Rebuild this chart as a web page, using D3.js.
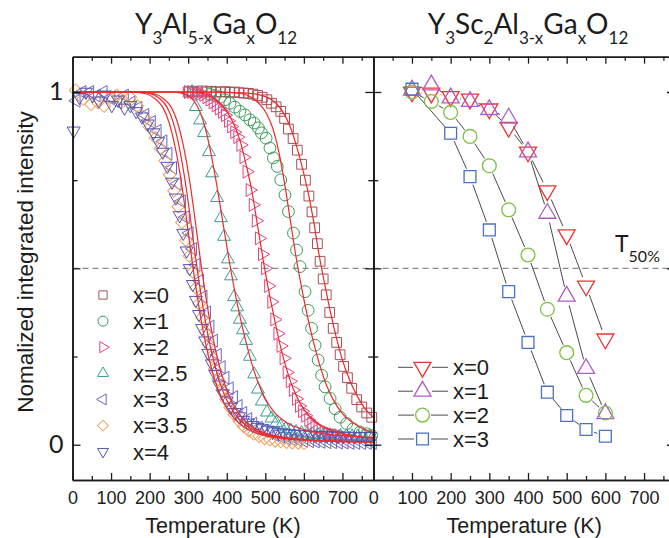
<!DOCTYPE html>
<html>
<head>
<meta charset="utf-8">
<script src="https://cdn.jsdelivr.net/npm/d3@7"></script>
<style>
  body { margin: 0; background: #fff; }
  svg { display: block; }
</style>
</head>
<body>
<svg id="chart" width="669" height="538"></svg>
<script>
// ---------- Y3Al(5-x)Ga(x)O12 : measured points ----------
const yagT_x0 = [300,312,324,336,348,360,372,384,396,408,420,432,444,456,468,480,492,504,516,528,540,550,560,572,583,594,604,613,621,628,635,642,650,658,667,676,685,694,703,713,724,737,750,763,776];
const yagI_x0 = [1.0,1.002,1.0,1.003,1.0,1.002,1.0,1.0,1.001,0.999,1.0,0.998,0.997,0.996,0.994,0.99,0.985,0.978,0.968,0.958,0.945,0.925,0.895,0.868,0.835,0.795,0.75,0.705,0.66,0.615,0.57,0.52,0.47,0.425,0.375,0.33,0.29,0.255,0.222,0.19,0.16,0.128,0.107,0.09,0.078];

const yagT_x1 = [357,370,383,395,408,421,434,447,460,471,482,490,502,512,521,531,540,551,560,573,581,590,603,611,620,629,637,646,655,668,681,694,711,728,746,763,776];
const yagI_x1 = [0.993,0.99,0.985,0.978,0.968,0.957,0.945,0.935,0.921,0.912,0.898,0.884,0.869,0.841,0.813,0.789,0.751,0.708,0.661,0.60,0.552,0.505,0.434,0.381,0.33,0.282,0.24,0.197,0.164,0.131,0.102,0.078,0.06,0.045,0.036,0.031,0.026];

const yagT_x2 = [300,308,316,324,332,340,348,356,364,372,380,388,396,404,412,420,428,436,444,452,460,468,476,484,492,500,508,516,524,532,540,548,556,564,572,580,588,596,604,612,620,628,636,644,652,660,668,676,684,692,700];
const yagI_x2 = [1.0,1.0,0.998,0.997,0.995,0.992,0.985,0.978,0.97,0.962,0.953,0.944,0.934,0.918,0.902,0.886,0.872,0.85,0.815,0.774,0.722,0.68,0.635,0.585,0.54,0.5,0.45,0.405,0.355,0.315,0.28,0.245,0.205,0.18,0.155,0.13,0.11,0.095,0.082,0.07,0.06,0.052,0.046,0.041,0.037,0.034,0.031,0.029,0.027,0.025,0.024];

const yagT_x25 = [310,320,331,341,354,362,375,385,393,403,411,419,427,434,442,450,460,471,481,491,504,516,528,540,553,566,580,594,608,622,636,650,665,680,695,710,725,740,755,770];
const yagI_x25 = [1.0,0.958,0.92,0.884,0.83,0.77,0.70,0.643,0.59,0.526,0.478,0.419,0.39,0.355,0.325,0.295,0.25,0.20,0.157,0.123,0.092,0.075,0.062,0.052,0.045,0.04,0.036,0.033,0.031,0.029,0.028,0.027,0.026,0.025,0.025,0.024,0.024,0.023,0.023,0.023];

const yagT_x3 = [10,25,45,62,80,100,118,135,152,170,188,205,220,235,248,260,272,283,293,303,312,321,330,339,348,357,366,376,386,396,407,418,430,442,455,468,482,496,510,525,540,555,570,585,600,615,630,645,660,675,690,705,720,735,750,765,778];
const yagI_x3 = [0.975,1.0,1.0,0.99,1.0,0.985,0.97,0.99,0.97,0.955,0.935,0.915,0.89,0.86,0.825,0.785,0.74,0.69,0.645,0.60,0.555,0.51,0.465,0.42,0.375,0.335,0.295,0.255,0.22,0.19,0.16,0.135,0.11,0.09,0.073,0.06,0.048,0.04,0.033,0.027,0.022,0.018,0.015,0.013,0.011,0.01,0.009,0.008,0.007,0.007,0.006,0.006,0.005,0.005,0.005,0.005,0.005];

const yagT_x35 = [8,28,48,66,82,98,115,132,150,168,185,200,215,228,240,252,263,274,284,294,303,312,320,328,336,344,352,360,369,378,388,398,409,420,432,444,457,470,484,498,512,526,540,555,570,585,600];
const yagI_x35 = [1.005,0.98,0.965,0.97,0.96,0.985,0.99,0.975,0.985,0.96,0.93,0.9,0.87,0.84,0.805,0.765,0.72,0.675,0.63,0.58,0.535,0.49,0.445,0.40,0.36,0.32,0.285,0.25,0.215,0.185,0.155,0.128,0.105,0.085,0.067,0.052,0.04,0.031,0.024,0.018,0.014,0.011,0.009,0.007,0.006,0.005,0.004];

const yagT_x4 = [3,18,35,52,68,85,102,118,135,150,165,180,195,210,222,234,246,258,268,278,287,296,304,312,320,328,336,344,352,361,370,380,390,400,410,421,432,443,455,467,480,493,506,520,534,548,562,576,590,604,618,632,646,660,674,688,702,716,730,744,758,772];
const yagI_x4 = [0.89,0.985,1.0,0.99,0.975,0.992,0.962,0.978,0.955,0.962,0.945,0.93,0.91,0.885,0.86,0.83,0.79,0.745,0.70,0.65,0.60,0.55,0.50,0.455,0.41,0.37,0.33,0.295,0.26,0.23,0.20,0.17,0.145,0.125,0.107,0.092,0.08,0.07,0.062,0.055,0.05,0.046,0.042,0.039,0.036,0.034,0.032,0.031,0.03,0.029,0.028,0.027,0.027,0.026,0.026,0.025,0.025,0.025,0.024,0.024,0.024,0.024];

// ---------- quenching fits (red curves) ----------
const fitT_x0 = [0,300,400,450,480,510,530,550,565,580,595,610,625,640,655,670,685,700,720,740,760,780];
const fitI_x0 = [1,1,0.999,0.997,0.993,0.982,0.966,0.935,0.9,0.85,0.79,0.72,0.635,0.535,0.45,0.37,0.3,0.24,0.18,0.135,0.1,0.078];
const fitT_x1 = [0,380,440,470,490,505,520,535,550,565,580,595,610,625,640,660,680,700,730,760,780];
const fitI_x1 = [1,1,0.995,0.98,0.96,0.935,0.895,0.83,0.74,0.635,0.53,0.44,0.36,0.29,0.23,0.165,0.12,0.088,0.06,0.042,0.035];
const fitT_x2 = [0,300,340,370,400,420,435,450,465,480,495,510,525,540,555,570,590,615,645,680,730,780];
const fitI_x2 = [1,1,0.995,0.98,0.945,0.905,0.86,0.795,0.72,0.62,0.52,0.43,0.35,0.275,0.215,0.165,0.118,0.08,0.055,0.038,0.025,0.018];
const fitT_x25 = [0,250,280,300,315,330,345,360,375,390,405,420,435,450,465,480,500,525,555,600,660,720,780];
const fitI_x25 = [1,1,0.997,0.99,0.975,0.945,0.895,0.82,0.73,0.63,0.53,0.44,0.36,0.29,0.23,0.18,0.13,0.09,0.063,0.043,0.03,0.024,0.02];
const fitT_x3 = [0,172,212,237,257,272,287,302,314,326,338,350,362,377,392,412,437,467,502,552,622,712,780];
const fitI_x3 = [1,1,0.995,0.98,0.955,0.915,0.85,0.76,0.67,0.57,0.475,0.39,0.315,0.24,0.18,0.125,0.08,0.05,0.032,0.02,0.013,0.009,0.007];
const fitT_x35 = [0,160,200,225,245,260,275,290,302,314,326,338,350,365,380,400,425,455,490,540,610,700,780];
const fitI_x35 = [1,1,0.996,0.982,0.957,0.918,0.853,0.762,0.672,0.572,0.478,0.392,0.317,0.243,0.182,0.127,0.082,0.051,0.033,0.021,0.014,0.01,0.008];
const fitT_x4 = [0,150,190,215,235,250,265,280,292,304,316,328,340,355,370,390,415,445,480,530,600,690,780];
const fitI_x4 = [1,1,0.995,0.98,0.955,0.915,0.85,0.76,0.67,0.57,0.475,0.39,0.315,0.24,0.18,0.125,0.08,0.05,0.032,0.02,0.013,0.009,0.007];

// ---------- Y3Sc2Al(3-x)Ga(x)O12 ----------
const scT = [100,150,200,250,300,350,400,450,500,550,600];
const scI_x0 = [1.0,0.997,0.987,0.98,0.952,0.90,0.83,0.72,0.595,0.45,0.30];
const scI_x1 = [1.005,1.02,0.983,0.973,0.95,0.926,0.83,0.656,0.421,0.216,0.088];
const scI_x2 = [1.0,0.973,0.942,0.874,0.791,0.666,0.538,0.384,0.261,0.14,0.09];
const scT_x3 = [100,200,250,300,350,400,450,500,550,600];
const scI_x3 = [1.008,0.883,0.76,0.609,0.434,0.29,0.149,0.083,0.043,0.024];

const yagLabels = ["x=0","x=1","x=2","x=2.5","x=3","x=3.5","x=4"];
const scLabels = ["x=0","x=1","x=2","x=3"];
const xTicks = [0,100,200,300,400,500,600,700];
const xMinorTicks = [50,150,250,350,450,550,650,750];

// ---------- layout ----------
const svg = d3.select("#chart");
const TOP = 56.7, BOTTOM = 480;
const y = d3.scaleLinear().domain([-0.1, 1.1]).range([BOTTOM, TOP]);
const xL = d3.scaleLinear().domain([0, 780]).range([72.5, 373.3]);
const xR = d3.scaleLinear().domain([0, 780]).range([373.3, 675]);
const INK = "#1c1c1c";
const FIT = "#ee2a2a";

const zipPts = (T, I) => T.slice(0, Math.min(T.length, I.length)).map((t, i) => [t, I[i]]);

// symbol helpers
const SHAPES = {
  square:  { type: d3.symbolSquare,   rot: 0 },
  circle:  { type: d3.symbolCircle,   rot: 0 },
  triR:    { type: d3.symbolTriangle, rot: 90 },
  triU:    { type: d3.symbolTriangle, rot: 0 },
  triL:    { type: d3.symbolTriangle, rot: -90 },
  diamond: { type: d3.symbolSquare,   rot: 45 },
  triD:    { type: d3.symbolTriangle, rot: 180 }
};
function symbolAt(g, cx, cy, shape, size, color, sw) {
  const s = SHAPES[shape];
  return g.append("path")
    .attr("d", d3.symbol().type(s.type).size(size)())
    .attr("transform", `translate(${cx},${cy}) rotate(${s.rot})`)
    .attr("fill", "none").attr("stroke", color).attr("stroke-width", sw);
}
function drawMarkers(g, pts, xs, shape, size, color, sw) {
  const s = SHAPES[shape];
  g.append("g").selectAll("path").data(pts).join("path")
    .attr("d", d3.symbol().type(s.type).size(size))
    .attr("transform", d => `translate(${xs(d[0])},${y(d[1])}) rotate(${s.rot})`)
    .attr("fill", "none").attr("stroke", color).attr("stroke-width", sw);
}

// ---------- dashed T50% reference ----------
svg.append("line")
  .attr("x1", xL(0)).attr("x2", 669).attr("y1", y(0.5)).attr("y2", y(0.5))
  .attr("stroke", "#8a8a8a").attr("stroke-width", 1.3).attr("stroke-dasharray", "6,4");

// ---------- left panel ----------
const leftSeries = [
  { T: yagT_x0,  I: yagI_x0,  fT: fitT_x0,  fI: fitI_x0,  shape: "square",  size: 95,  color: "#a84f55" },
  { T: yagT_x1,  I: yagI_x1,  fT: fitT_x1,  fI: fitI_x1,  shape: "circle",  size: 110, color: "#3d9a5a" },
  { T: yagT_x2,  I: yagI_x2,  fT: fitT_x2,  fI: fitI_x2,  shape: "triR",    size: 72,  color: "#e2437f" },
  { T: yagT_x25, I: yagI_x25, fT: fitT_x25, fI: fitI_x25, shape: "triU",    size: 72,  color: "#3a9e94" },
  { T: yagT_x3,  I: yagI_x3,  fT: fitT_x3,  fI: fitI_x3,  shape: "triL",    size: 72,  color: "#6c64c4" },
  { T: yagT_x35, I: yagI_x35, fT: fitT_x35, fI: fitI_x35, shape: "diamond", size: 80,  color: "#f2a05a" },
  { T: yagT_x4,  I: yagI_x4,  fT: fitT_x4,  fI: fitI_x4,  shape: "triD",    size: 72,  color: "#5254b2" }
];

svg.append("defs").append("clipPath").attr("id", "clipL")
  .append("rect").attr("x", xL(0)).attr("y", TOP).attr("width", xL(780) - xL(0)).attr("height", BOTTOM - TOP);

const gL = svg.append("g");
leftSeries.forEach(s => drawMarkers(gL, zipPts(s.T, s.I), xL, s.shape, s.size, s.color, 1));

const fitLine = d3.line().x(d => xL(d[0])).y(d => y(d[1])).curve(d3.curveMonotoneX);
const gFit = svg.append("g").attr("clip-path", "url(#clipL)");
leftSeries.forEach(s => {
  gFit.append("path").attr("d", fitLine(zipPts(s.fT, s.fI)))
    .attr("fill", "none").attr("stroke", FIT).attr("stroke-width", 1.2);
});

// left legend
const legL = svg.append("g");
yagLabels.forEach((lab, i) => {
  const cy = 295 + i * 26.1;
  const s = leftSeries[i];
  symbolAt(legL, 103, cy, s.shape, s.size * 0.72, s.color, 1);
  legL.append("text").attr("x", 133).attr("y", cy).attr("dy", "0.36em")
    .attr("font-family", "Liberation Sans, Arial, sans-serif").attr("font-size", 22)
    .attr("fill", INK).text(lab);
});

// ---------- right panel ----------
const rightSeries = [
  { T: scT,    I: scI_x0, shape: "triD",   size: 125, color: "#ef3232", gap: 9.5 },
  { T: scT,    I: scI_x1, shape: "triU",   size: 125, color: "#b05cc2", gap: 9.5 },
  { T: scT,    I: scI_x2, shape: "circle", size: 150, color: "#7cc044", gap: 8.5 },
  { T: scT_x3, I: scI_x3, shape: "square", size: 140, color: "#4a72c4", gap: 8.5 }
];

function gappedSegments(pixelPts, gap) {
  const segs = [];
  for (let i = 0; i < pixelPts.length - 1; i++) {
    const [x1, y1] = pixelPts[i], [x2, y2] = pixelPts[i + 1];
    const dx = x2 - x1, dy = y2 - y1, len = Math.hypot(dx, dy);
    if (len <= 2 * gap) continue;
    const ux = dx / len, uy = dy / len;
    segs.push([x1 + ux * gap, y1 + uy * gap, x2 - ux * gap, y2 - uy * gap]);
  }
  return segs;
}

const gR = svg.append("g");
rightSeries.forEach(s => {
  const pts = zipPts(s.T, s.I);
  const px = pts.map(d => [xR(d[0]), y(d[1])]);
  gR.append("g").selectAll("line").data(gappedSegments(px, s.gap)).join("line")
    .attr("x1", d => d[0]).attr("y1", d => d[1]).attr("x2", d => d[2]).attr("y2", d => d[3])
    .attr("stroke", "#4a4a4a").attr("stroke-width", 1);
});
rightSeries.forEach(s => drawMarkers(gR, zipPts(s.T, s.I), xR, s.shape, s.size, s.color, 1.3));

// right legend
const legR = svg.append("g");
scLabels.forEach((lab, i) => {
  const cy = 367.3 + i * 23.9;
  const s = rightSeries[i];
  const cx = 422.5;
  legR.append("line").attr("x1", 398).attr("x2", cx - s.gap).attr("y1", cy).attr("y2", cy)
    .attr("stroke", "#4a4a4a").attr("stroke-width", 1);
  legR.append("line").attr("x1", cx + s.gap).attr("x2", 448).attr("y1", cy).attr("y2", cy)
    .attr("stroke", "#4a4a4a").attr("stroke-width", 1);
  symbolAt(legR, cx, cy, s.shape, s.size, s.color, 1.3);
  legR.append("text").attr("x", 453).attr("y", cy).attr("dy", "0.36em")
    .attr("font-family", "Liberation Sans, Arial, sans-serif").attr("font-size", 22)
    .attr("fill", INK).text(lab);
});

// T50% label
const t50 = svg.append("text").attr("x", 615).attr("y", 251.7)
  .attr("font-family", "Lato, sans-serif").attr("font-size", 23).attr("fill", INK);
t50.append("tspan").text("T");
t50.append("tspan").attr("dy", 10).attr("font-size", 16).text("50%");

// ---------- axes ----------
function styleAxis(g) {
  g.select(".domain").attr("stroke", INK).attr("stroke-width", 1.6);
  g.selectAll(".tick line").attr("stroke", INK).attr("stroke-width", 1.3);
}
function panelAxes(xs, labelled) {
  const x0 = xs.range()[0], x1 = xs.range()[1];
  const b = svg.append("g").attr("transform", `translate(0,${BOTTOM})`)
    .call(d3.axisBottom(xs).tickValues(xTicks).tickSize(-7).tickSizeOuter(0).tickPadding(11));
  b.selectAll(".tick text").attr("font-family", "Liberation Sans, Arial, sans-serif")
    .attr("font-size", 18).attr("fill", INK);
  styleAxis(b);
  const bm = svg.append("g").attr("transform", `translate(0,${BOTTOM})`)
    .call(d3.axisBottom(xs).tickValues(xMinorTicks).tickSize(-4).tickSizeOuter(0).tickFormat(""));
  styleAxis(bm);
  const t = svg.append("g").attr("transform", `translate(0,${TOP})`)
    .call(d3.axisTop(xs).tickValues(xTicks).tickSize(-7).tickSizeOuter(0).tickFormat(""));
  styleAxis(t);
  const tm = svg.append("g").attr("transform", `translate(0,${TOP})`)
    .call(d3.axisTop(xs).tickValues(xMinorTicks).tickSize(-4).tickSizeOuter(0).tickFormat(""));
  styleAxis(tm);

  const l = svg.append("g").attr("transform", `translate(${x0},0)`)
    .call(d3.axisLeft(y).tickValues([0, 0.5, 1]).tickSize(-8).tickSizeOuter(0)
      .tickFormat(v => (labelled && v !== 0.5) ? d3.format("d")(v) : "").tickPadding(9));
  l.selectAll(".tick text").attr("font-family", "Lato, sans-serif").attr("font-size", 25).attr("fill", INK);
  styleAxis(l);
  const lm = svg.append("g").attr("transform", `translate(${x0},0)`)
    .call(d3.axisLeft(y).tickValues([0.25, 0.75]).tickSize(-5).tickSizeOuter(0).tickFormat(""));
  styleAxis(lm);
  const r = svg.append("g").attr("transform", `translate(${x1},0)`)
    .call(d3.axisRight(y).tickValues([0, 0.5, 1]).tickSize(-8).tickSizeOuter(0).tickFormat(""));
  styleAxis(r);
  const rm = svg.append("g").attr("transform", `translate(${x1},0)`)
    .call(d3.axisRight(y).tickValues([0.25, 0.75]).tickSize(-5).tickSizeOuter(0).tickFormat(""));
  styleAxis(rm);

  svg.append("text").attr("x", (x0 + x1) / 2).attr("y", 533).attr("text-anchor", "middle")
    .attr("font-family", "Liberation Sans, Arial, sans-serif").attr("font-size", 21.5)
    .attr("fill", INK).text("Temperature (K)");
}
panelAxes(xL, true);
panelAxes(xR, false);

// y-axis title
svg.append("text").attr("transform", "translate(32.5,262) rotate(-90)")
  .attr("text-anchor", "middle")
  .attr("font-family", "Liberation Sans, Arial, sans-serif").attr("font-size", 22.5)
  .attr("fill", INK).text("Nomalized integrated intensity");

// ---------- panel titles with subscripts ----------
function formula(cx, baseline, parts) {
  const t = svg.append("text").attr("x", cx).attr("y", baseline).attr("text-anchor", "middle")
    .attr("font-family", "Lato, sans-serif").attr("font-size", 28).attr("fill", INK);
  let low = false;
  parts.forEach(([s, sub]) => {
    const ts = t.append("tspan").text(s);
    if (sub) {
      ts.attr("font-size", 17);
      if (!low) { ts.attr("dy", 10); low = true; }
    } else if (low) {
      ts.attr("dy", -10); low = false;
    }
  });
}
formula(216, 33.5, [["Y"],["3",1],["Al"],["5-x",1],["Ga"],["x",1],["O"],["12",1]]);
formula(528, 33.5, [["Y"],["3",1],["Sc"],["2",1],["Al"],["3-x",1],["Ga"],["x",1],["O"],["12",1]]);
</script>
</body>
</html>
